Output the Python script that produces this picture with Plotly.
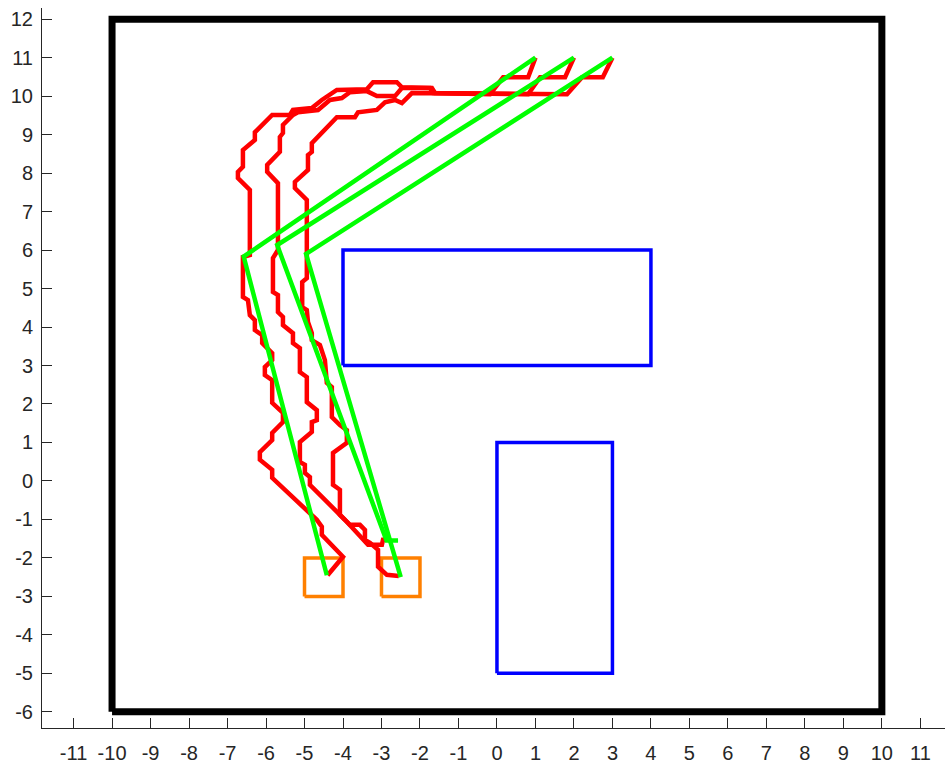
import plotly.graph_objects as go

# Workspace boundary
border_x = [-10, 10, 10, -10, -10]
border_y = [-6, -6, 12, 12, -6]

# Obstacles
obst1_x = [-4, 4, 4, -4, -4]
obst1_y = [3, 3, 6, 6, 3]
obst2_x = [0, 3, 3, 0, 0]
obst2_y = [-5, -5, 1, 1, -5]

# Start regions
start1_x = [-5, -4, -4, -5, -5]
start1_y = [-3, -3, -2, -2, -3]
start2_x = [-3, -2, -2, -3, -3]
start2_y = [-3, -3, -2, -2, -3]

# Grid planner paths (red)
path1_x = [-4.40, -4.00, -4.55, -4.55, -4.68, -5.84, -5.84, -6.16, -6.16, -5.84, -5.84,
           -5.56, -5.56, -5.84, -5.84, -6.03, -6.03, -5.84, -5.84, -6.10, -6.10, -6.29,
           -6.29, -6.42, -6.47, -6.60, -6.60, -6.42, -6.42, -6.73, -6.73, -6.60, -6.60,
           -6.29, -6.29, -5.84, -5.38, -5.30, -4.81, -4.55, -4.16, -3.38, -3.22, -2.60,
           -2.47, -1.74, -1.66, -0.18, 0.16, 0.81, 1.00]
path1_y = [-2.45, -1.97, -1.40, -1.19, -1.01, 0.08, 0.29, 0.55, 0.75, 1.06, 1.25,
           1.53, 1.77, 2.03, 2.62, 2.75, 2.96, 3.14, 3.32, 3.58, 3.79, 3.92,
           4.18, 4.31, 4.70, 4.78, 5.82, 5.87, 7.56, 7.87, 8.03, 8.16, 8.60,
           8.86, 9.06, 9.51, 9.51, 9.64, 9.69, 9.90, 10.16, 10.18, 10.36, 10.36,
           10.23, 10.21, 10.08, 10.05, 10.49, 10.49, 11.00]

path2_x = [-2.83, -2.96, -2.99, -3.35, -3.95, -4.86, -4.86, -4.99, -4.99, -5.12, -5.12,
           -4.81, -4.81, -4.68, -4.68, -4.94, -4.94, -5.12, -5.12, -5.30, -5.30, -5.56,
           -5.56, -5.69, -5.69, -5.82, -5.82, -5.69, -5.69, -5.97, -5.97, -5.64, -5.64,
           -5.56, -5.56, -5.30, -5.17, -4.65, -4.34, -4.03, -3.82, -3.38, -3.12, -2.65,
           -2.47, -1.69, -1.61, 0.81, 1.12, 1.77, 2.00]
path2_y = [-1.53, -1.53, -1.66, -1.66, -1.01, -0.10, 0.10, 0.21, 0.42, 0.49, 1.01,
           1.27, 1.53, 1.58, 1.84, 2.05, 2.70, 2.83, 3.45, 3.58, 3.84, 4.05,
           4.26, 4.39, 4.83, 4.91, 5.79, 6.00, 7.74, 8.03, 8.21, 8.55, 8.94,
           9.04, 9.25, 9.51, 9.58, 9.64, 9.90, 9.95, 10.10, 10.13, 10.00, 10.00,
           10.21, 10.21, 10.08, 10.05, 10.49, 10.49, 11.00]

path3_x = [-2.55, -2.86, -3.09, -3.09, -3.30, -3.43, -3.43, -3.56, -3.82, -4.08, -4.08,
           -4.26, -4.26, -3.90, -3.90, -4.08, -4.29, -4.29, -4.42, -4.47, -4.60, -4.81,
           -4.81, -4.91, -4.94, -5.06, -5.06, -4.94, -4.94, -5.25, -5.25, -4.91, -4.91,
           -4.81, -4.81, -4.16, -3.69, -3.61, -3.12, -2.91, -2.65, -2.47, -2.21, 1.82,
           2.21, 2.75, 3.00]
path3_y = [-2.47, -2.44, -2.23, -1.79, -1.61, -1.53, -1.27, -1.14, -1.14, -0.88, -0.23,
           -0.10, 0.73, 0.99, 1.32, 1.45, 1.66, 2.44, 2.55, 3.14, 3.53, 3.66,
           3.84, 4.13, 4.44, 4.52, 5.17, 5.27, 7.30, 7.61, 7.77, 8.08, 8.47,
           8.55, 8.78, 9.45, 9.45, 9.58, 9.64, 9.84, 9.90, 9.82, 10.08, 10.05,
           10.49, 10.49, 11.00]

# Visibility paths (green)
vis1_x = [-4.42, -6.58, 1.0]
vis1_y = [-2.45, 5.83, 11.0]
vis2_x = [-2.57, -2.87, -5.71, 2.0]
vis2_y = [-1.55, -1.55, 6.13, 11.0]
vis3_x = [-2.50, -4.96, 3.0]
vis3_y = [-2.50, 5.90, 11.0]

# Axis ticks
x_ticks = list(range(-11, 12))
y_ticks = list(range(-6, 13))
x_tick_text = [str(v) for v in x_ticks]
y_tick_text = [str(v) for v in y_ticks]

fig = go.Figure()


def add_line(xs, ys, color, width):
    fig.add_trace(go.Scatter(x=xs, y=ys, mode="lines",
                             line=dict(color=color, width=width),
                             hoverinfo="skip", showlegend=False))


add_line(border_x, border_y, "#000000", 7)
add_line(obst1_x, obst1_y, "#0000FF", 3.5)
add_line(obst2_x, obst2_y, "#0000FF", 3.5)
add_line(start1_x, start1_y, "#FF8000", 3.5)
add_line(start2_x, start2_y, "#FF8000", 3.5)
add_line(path1_x, path1_y, "#FF0000", 4.5)
add_line(path2_x, path2_y, "#FF0000", 4.5)
add_line(path3_x, path3_y, "#FF0000", 4.5)
add_line(vis1_x, vis1_y, "#00FF00", 4.5)
add_line(vis2_x, vis2_y, "#00FF00", 4.5)
add_line(vis3_x, vis3_y, "#00FF00", 4.5)

axis_common = dict(
    showgrid=False, zeroline=False, showline=True, linecolor="#262626",
    linewidth=1, ticks="inside", ticklen=10, tickwidth=1, tickcolor="#262626",
    tickfont=dict(family="Liberation Sans, Arial, sans-serif", size=20, color="#262626"),
    mirror=False,
)

fig.update_layout(
    width=945, height=764,
    margin=dict(l=42, r=0, t=8, b=36),
    paper_bgcolor="white", plot_bgcolor="white",
    xaxis=dict(range=[-11.82, 11.64], tickvals=x_ticks, ticktext=x_tick_text,
               ticklabelstandoff=7, **axis_common),
    yaxis=dict(range=[-6.42, 12.29], tickvals=y_ticks, ticktext=y_tick_text,
               ticklabelstandoff=4, **axis_common),
)

fig.write_html("out.html")
